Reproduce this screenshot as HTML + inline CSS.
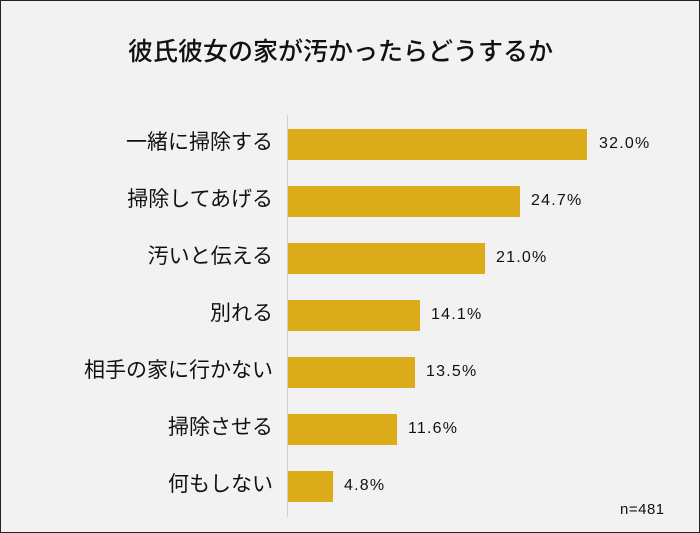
<!DOCTYPE html>
<html><head><meta charset="utf-8"><style>
body{margin:0;}
.c{position:relative;width:698px;height:531px;background:#f2f2f2;border:1px solid #222;font-family:"Liberation Sans","Noto Sans CJK JP",sans-serif;color:#111;overflow:hidden}
.t{position:absolute;left:127px;top:31px;font-size:25px;white-space:nowrap;font-weight:500;letter-spacing:0px}
.ax{position:absolute;left:286px;top:114px;width:1px;height:402px;background:#d0d0d0}
.l{position:absolute;right:426px;font-size:21px;white-space:nowrap;line-height:30px}
.b{position:absolute;left:287px;height:31px;background:#dcab19}
.v{position:absolute;font-size:16px;line-height:31px;letter-spacing:1.2px}
.n{position:absolute;left:619px;top:500px;font-size:15px;letter-spacing:0.5px}
</style></head><body><div class="c">
<div class="t">彼氏彼女の家が汚かったらどうするか</div>
<div class="ax"></div>
<div class="l" style="top:127px">一緒に掃除する</div><div class="b" style="top:128px;width:299px"></div><div class="v" style="top:127px;left:598px">32.0%</div>
<div class="l" style="top:184px">掃除してあげる</div><div class="b" style="top:185px;width:232px"></div><div class="v" style="top:184px;left:530px">24.7%</div>
<div class="l" style="top:241px">汚いと伝える</div><div class="b" style="top:242px;width:197px"></div><div class="v" style="top:241px;left:495px">21.0%</div>
<div class="l" style="top:298px">別れる</div><div class="b" style="top:299px;width:132px"></div><div class="v" style="top:298px;left:430px">14.1%</div>
<div class="l" style="top:355px">相手の家に行かない</div><div class="b" style="top:356px;width:127px"></div><div class="v" style="top:355px;left:425px">13.5%</div>
<div class="l" style="top:412px">掃除させる</div><div class="b" style="top:413px;width:109px"></div><div class="v" style="top:412px;left:407px">11.6%</div>
<div class="l" style="top:469px">何もしない</div><div class="b" style="top:470px;width:45px"></div><div class="v" style="top:469px;left:343px">4.8%</div>
<div class="n">n=481</div>
</div></body></html>
